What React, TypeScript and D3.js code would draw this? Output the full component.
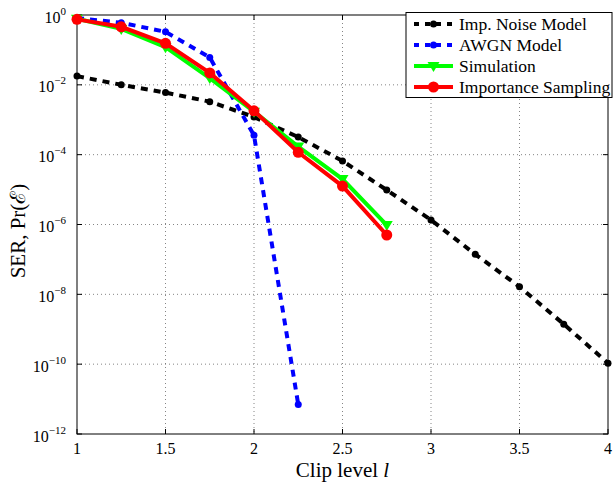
import React, { useRef, useEffect } from "react";
import * as d3 from "d3";

// clip levels
const impX = [1, 1.25, 1.5, 1.75, 2, 2.25, 2.5, 2.75, 3, 3.25, 3.5, 3.75, 4];
const impSER = [0.0178, 0.01, 0.006, 0.0033, 0.0012, 3.2e-4, 6.6e-5, 9.7e-6, 1.35e-6, 1.4e-7, 1.65e-8, 1.4e-9, 1.07e-10];

const awgnX = [1, 1.25, 1.5, 1.75, 2, 2.25];
const awgnSER = [0.82, 0.6, 0.33, 0.061, 3.6e-4, 7e-12];

const simX = [1, 1.25, 1.5, 1.75, 2, 2.25, 2.5, 2.75];
const simSER = [0.78, 0.4, 0.12, 0.0156, 0.0017, 1.7e-4, 2.0e-5, 9.6e-7];

const isX = [1, 1.25, 1.5, 1.75, 2, 2.25, 2.5, 2.75];
const isSER = [0.75, 0.46, 0.155, 0.022, 0.0018, 1.17e-4, 1.26e-5, 5e-7];

const xTicks = [1, 1.5, 2, 2.5, 3, 3.5, 4];
const yExps = [0, -2, -4, -6, -8, -10, -12];

const legendNames = ["Imp. Noise Model", "AWGN Model", "Simulation", "Importance Sampling"];

const App = () => {
  const svgRef = useRef<SVGSVGElement>(null);

  useEffect(() => {
    const svg = d3.select(svgRef.current);
    svg.selectAll("*").remove();

    const left = 77, right = 608, top = 15, bottom = 434;
    const x = d3.scaleLinear().domain([1, 4]).range([left, right]);
    const y = d3.scaleLog().domain([1e-12, 1]).range([bottom, top]);
    const font = "'Liberation Serif', 'Times New Roman', serif";

    // grid
    const grid = svg.append("g").attr("stroke", "#666").attr("stroke-width", 0.8).attr("stroke-dasharray", "1,3");
    xTicks.slice(1, -1).forEach((t) => {
      grid.append("line").attr("x1", x(t)).attr("x2", x(t)).attr("y1", top).attr("y2", bottom);
    });
    yExps.slice(1, -1).forEach((e) => {
      grid.append("line").attr("x1", left).attr("x2", right).attr("y1", y(10 ** e)).attr("y2", y(10 ** e));
    });

    // frame + inward ticks
    svg.append("rect").attr("x", left).attr("y", top).attr("width", right - left).attr("height", bottom - top)
      .attr("fill", "none").attr("stroke", "#000").attr("stroke-width", 1);
    const tk = svg.append("g").attr("stroke", "#000").attr("stroke-width", 1);
    xTicks.forEach((t) => {
      tk.append("line").attr("x1", x(t)).attr("x2", x(t)).attr("y1", bottom).attr("y2", bottom - 5);
      tk.append("line").attr("x1", x(t)).attr("x2", x(t)).attr("y1", top).attr("y2", top + 5);
    });
    yExps.forEach((e) => {
      tk.append("line").attr("x1", left).attr("x2", left + 5).attr("y1", y(10 ** e)).attr("y2", y(10 ** e));
      tk.append("line").attr("x1", right).attr("x2", right - 5).attr("y1", y(10 ** e)).attr("y2", y(10 ** e));
    });

    // tick labels
    svg.append("g").selectAll("text").data(xTicks).enter().append("text")
      .attr("x", (d) => x(d)).attr("y", bottom + 20).attr("text-anchor", "middle")
      .style("font-family", font).style("font-size", "16px").text((d) => String(d));

    const yl = svg.append("g").selectAll("text").data(yExps).enter().append("text")
      .attr("x", left - 11).attr("y", (d) => y(10 ** d) + 7.5).attr("text-anchor", "end")
      .style("font-family", font).style("font-size", "16px");
    yl.append("tspan").text("10");
    yl.append("tspan").attr("dy", -8).style("font-size", "11px").text((d) => (d === 0 ? "0" : "\u2212" + -d));

    // axis titles
    const xt = svg.append("text").attr("x", (left + right) / 2).attr("y", 477).attr("text-anchor", "middle")
      .style("font-family", font).style("font-size", "21px");
    xt.append("tspan").text("Clip level ");
    xt.append("tspan").style("font-style", "italic").text("l");

    svg.append("text").attr("transform", `translate(25,231) rotate(-90)`)
      .attr("text-anchor", "middle").style("font-family", font).style("font-size", "21px")
      .text("SER, Pr(\u2130)");

    const line = d3.line<[number, number]>().x((d) => x(d[0])).y((d) => y(d[1]));
    const series = [
      { xs: impX, ys: impSER, color: "#000", dash: "7,6", marker: "dot" },
      { xs: awgnX, ys: awgnSER, color: "#0000ff", dash: "7,6", marker: "dot" },
      { xs: simX, ys: simSER, color: "#00ff00", dash: null, marker: "tri" },
      { xs: isX, ys: isSER, color: "#ff0000", dash: null, marker: "circ" },
    ];

    const drawMarker = (g: any, type: string, cx: number, cy: number, color: string) => {
      if (type === "dot") {
        g.append("circle").attr("cx", cx).attr("cy", cy).attr("r", 3.5).attr("fill", color);
      } else if (type === "tri") {
        g.append("path").attr("d", `M${cx - 6},${cy - 4}L${cx + 6},${cy - 4}L${cx},${cy + 6}Z`).attr("fill", color);
      } else {
        g.append("circle").attr("cx", cx).attr("cy", cy).attr("r", 5.5).attr("fill", color);
      }
    };

    series.forEach((s) => {
      const pts = s.xs.map((v, i) => [v, s.ys[i]] as [number, number]);
      const g = svg.append("g");
      g.append("path").attr("d", line(pts)).attr("fill", "none").attr("stroke", s.color)
        .attr("stroke-width", 4).attr("stroke-dasharray", s.dash);
      pts.forEach((p) => drawMarker(g, s.marker, x(p[0]), y(p[1]), s.color));
    });

    // legend
    const lg = svg.append("g");
    lg.append("rect").attr("x", 406).attr("y", 12.5).attr("width", 206).attr("height", 85)
      .attr("fill", "#fff").attr("stroke", "#000").attr("stroke-width", 1);
    legendNames.forEach((name, i) => {
      const s = series[i];
      const cy = 24 + i * 21;
      lg.append("line").attr("x1", 414).attr("x2", 453).attr("y1", cy).attr("y2", cy)
        .attr("stroke", s.color).attr("stroke-width", 4).attr("stroke-dasharray", s.dash ? "5,6" : null);
      drawMarker(lg, s.marker, 433.5, cy, s.color);
      lg.append("text").attr("x", 459).attr("y", cy + 5.5).style("font-family", font).style("font-size", "17.5px").text(name);
    });
  }, []);

  return <svg ref={svgRef} width={613} height={483} style={{ position: "absolute", left: 0, top: 0, background: "#fff" }} />;
};

export default App;
